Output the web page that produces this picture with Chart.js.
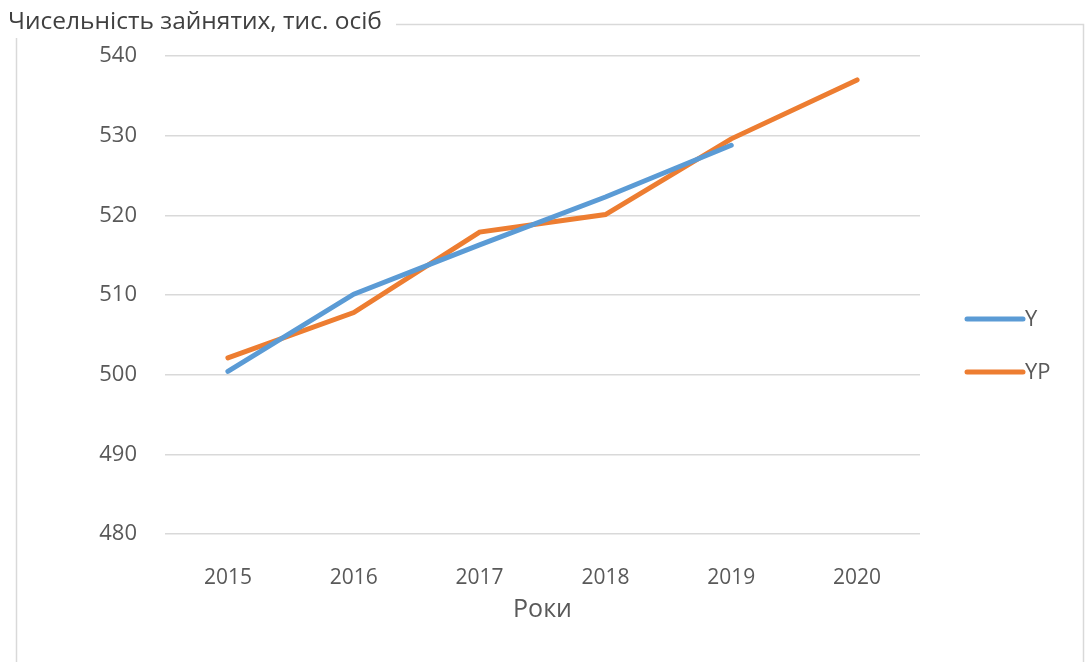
<!DOCTYPE html>
<html>
<head>
<meta charset="utf-8">
<script src="https://cdn.jsdelivr.net/npm/chart.js@4"></script>
<style>
  body { margin: 0; background: #fff; }
  #wrap { width: 1085px; height: 662px; position: relative; }
</style>
</head>
<body>
<div id="wrap"><canvas id="employChart"></canvas></div>
<script>
const years = ['2015', '2016', '2017', '2018', '2019', '2020'];
const actualY = [500.4, 510.1, 516.3, 522.3, 528.8, null];
const forecastYP = [502.1, 507.8, 517.9, 520.1, 529.6, 537.0];
const yTicks = [480, 490, 500, 510, 520, 530, 540];

const TITLE = 'Чисельність зайнятих, тис. осіб';
const FONT = '"Open Sans", "Noto Sans", sans-serif';

// frame around the chart, with the title sitting on the top edge, plus a right-side legend
const framePlugin = {
    id: 'frame',
    afterDraw(chart) {
        const ctx = chart.ctx;
        ctx.save();
        ctx.strokeStyle = '#d9d9d9';
        ctx.lineWidth = 1.5;
        ctx.beginPath();
        ctx.moveTo(396, 24.5);
        ctx.lineTo(1083.5, 24.5);
        ctx.lineTo(1083.5, 662);
        ctx.moveTo(16.5, 38);
        ctx.lineTo(16.5, 662);
        ctx.stroke();

        ctx.fillStyle = '#404040';
        ctx.font = '500 24.5px ' + FONT;
        ctx.textBaseline = 'middle';
        ctx.textAlign = 'left';
        ctx.fillText(TITLE, 8, 22);

        // legend
        const rows = [319, 372];
        chart.data.datasets.forEach((ds, i) => {
            ctx.strokeStyle = ds.borderColor;
            ctx.lineWidth = 5;
            ctx.lineCap = 'round';
            ctx.beginPath();
            ctx.moveTo(967, rows[i]);
            ctx.lineTo(1023, rows[i]);
            ctx.stroke();
            ctx.fillStyle = '#595959';
            ctx.font = '22px ' + FONT;
            ctx.fillText(ds.label, 1025, rows[i] + 1);
        });
        ctx.restore();
    }
};

const ctx = document.getElementById('employChart').getContext('2d');
new Chart(ctx, {
    type: 'line',
    data: {
        labels: years,
        datasets: [
            {
                label: 'Y',
                data: actualY,
                borderColor: '#5b9bd5',
                borderWidth: 5,
                pointRadius: 0,
                tension: 0,
                borderCapStyle: 'round'
            },
            {
                label: 'YP',
                data: forecastYP,
                borderColor: '#ed7d31',
                borderWidth: 5,
                pointRadius: 0,
                tension: 0,
                borderCapStyle: 'round'
            }
        ]
    },
    options: {
        responsive: true,
        maintainAspectRatio: false,
        animation: false,
        layout: { padding: { top: 56, right: 165, bottom: 33, left: 0 } },
        plugins: {
            legend: { display: false },
            tooltip: { enabled: false }
        },
        scales: {
            x: {
                offset: true,
                grid: { display: false },
                border: { display: false },
                ticks: { color: '#595959', font: { family: FONT, size: 21 }, padding: 23 },
                title: {
                    display: true,
                    text: 'Роки',
                    color: '#595959',
                    font: { family: FONT, size: 25 },
                    padding: { top: 4, bottom: 4 }
                },
                afterFit(scale) { scale.height = 95; }
            },
            y: {
                min: 480,
                max: 540,
                afterBuildTicks(scale) { scale.ticks = yTicks.map(v => ({ value: v })); },
                grid: { color: '#d9d9d9', lineWidth: 1.5, drawTicks: false },
                border: { display: false },
                ticks: { color: '#595959', font: { family: FONT, size: 22 }, padding: 28 },
                afterFit(scale) { scale.width = 165; }
            }
        }
    },
    plugins: [framePlugin]
});
</script>
</body>
</html>
